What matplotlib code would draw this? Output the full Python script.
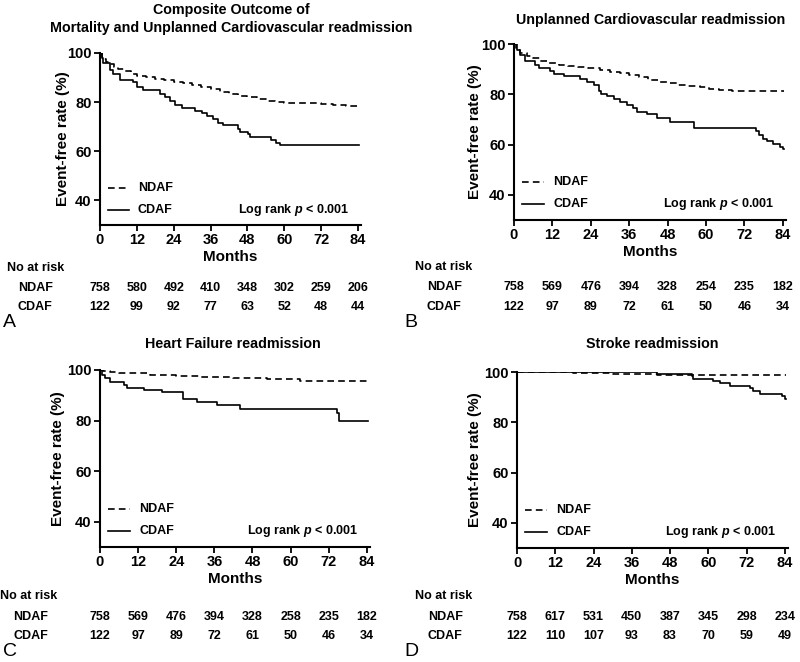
import matplotlib.pyplot as plt
from matplotlib.lines import Line2D
from matplotlib.transforms import blended_transform_factory

plt.rcParams['font.family'] = 'Liberation Sans'
plt.rcParams['font.weight'] = 'bold'
plt.rcParams['axes.labelweight'] = 'bold'
plt.rcParams['mathtext.fontset'] = 'custom'
plt.rcParams['mathtext.rm'] = 'Liberation Sans:bold'
plt.rcParams['mathtext.it'] = 'Liberation Sans:italic:bold'

months = [0, 12, 24, 36, 48, 60, 72, 84]

# A: composite outcome
a_ndaf_t = [0, 0.5, 1, 2, 3, 4.5, 6, 8, 10, 12, 15, 18, 21, 24, 27, 30, 33, 36, 39, 42, 45, 48,
            51, 54, 57, 60, 66, 72, 76, 80, 84.5]
a_ndaf_s = [100, 98.5, 97.5, 96.5, 95.5, 94.5, 93.5, 92.5, 91.5, 90.8, 90.2, 89.6, 89, 88.3, 87.6,
            86.8, 86, 85.2, 84.3, 83.4, 82.6, 82, 81.2, 80.6, 80, 79.7, 79.5, 79.3, 78.8, 78.5, 78.5]
a_cdaf_t = [0, 0.5, 1.1, 3.3, 4.3, 6.5, 10.8, 11.9, 14.1, 19.5, 21.1, 22.8, 24.4, 26.6, 30.9, 33.1,
            34.7, 36.9, 38.5, 40.1, 45.0, 45.5, 48.2, 48.8, 55.8, 57.4, 58.5, 84.5]
a_cdaf_s = [100, 98, 96, 93, 91.5, 89, 88, 86, 85, 83.5, 82, 80.5, 79, 77.5, 76.5, 75.5, 74.5, 73,
            71.5, 70.5, 69, 68, 67, 66, 64.5, 63.5, 62.6, 62.6]
a_risk_ndaf = [758, 580, 492, 410, 348, 302, 259, 206]
a_risk_cdaf = [122, 99, 92, 77, 63, 52, 48, 44]

# B: unplanned cardiovascular readmission
b_ndaf_t = [0, 0.5, 1, 2, 4, 6, 8, 11, 14, 17, 20, 23, 27, 30, 33, 36, 39, 42, 45, 48, 51, 54, 58,
            61, 64, 68, 84.5]
b_ndaf_s = [100, 98.5, 97.5, 96.4, 95.3, 94.4, 93.4, 92.4, 91.7, 91.1, 90.7, 90.3, 89.7, 89, 88.4,
            87.6, 86.8, 85.8, 85, 84.4, 83.8, 83.3, 82.8, 82.3, 81.7, 81.5, 81.5]
b_cdaf_t = [0, 0.8, 1.8, 3.5, 6.5, 7.8, 11.4, 12.4, 15.6, 20.7, 22.8, 24.9, 26.5, 27.2, 29, 31.1,
            33.2, 35.3, 37.3, 38.4, 41.5, 44.6, 48.7, 56.2, 75.7, 76.7, 77.8, 79, 80.9, 83, 84, 84.5]
b_cdaf_s = [100, 97.5, 95.7, 93.2, 91.5, 90.4, 89.3, 88.2, 87.3, 86.2, 84.7, 83.7, 81.5, 80.2, 79.2,
            78.2, 77.1, 75.8, 74.4, 73.1, 72.3, 70.4, 69.1, 66.7, 65.2, 63.8, 62.2, 61.5, 60.2, 59.2,
            58.4, 58.4]
b_risk_ndaf = [758, 569, 476, 394, 328, 254, 235, 182]
b_risk_cdaf = [122, 97, 89, 72, 61, 50, 46, 34]

# C: heart failure readmission
c_ndaf_t = [0, 1, 3, 6, 10.5, 15.8, 24, 31.5, 42, 52.5, 63, 84.5]
c_ndaf_s = [100, 99.6, 99.3, 99, 98.7, 98.1, 97.8, 97.4, 96.8, 96.3, 95.8, 95.6]
c_cdaf_t = [0, 0.5, 1.6, 3.2, 7.4, 8.4, 13.7, 19.5, 26, 30.5, 36.8, 44.1, 74.6, 75.3, 84.5]
c_cdaf_s = [100, 98, 96.7, 95.4, 94, 92.9, 92.2, 91.3, 88.5, 87.3, 86.1, 84.5, 82.8, 80, 80]
c_risk_ndaf = [758, 569, 476, 394, 328, 258, 235, 182]
c_risk_cdaf = [122, 97, 89, 72, 61, 50, 46, 34]

# D: stroke readmission
d_ndaf_t = [0, 17.7, 22, 30, 36.5, 43.8, 55, 84.5]
d_ndaf_s = [100, 99.8, 99.6, 99.4, 99.2, 98.9, 98.8, 98.7]
d_cdaf_t = [0, 43.8, 54.8, 55.3, 61.5, 63.6, 66.8, 73, 74, 76.1, 83, 84, 84.5]
d_cdaf_s = [100, 99.2, 98.3, 97.4, 96.6, 95.6, 94.6, 93.5, 92.6, 91.2, 90.6, 89.2, 89.2]
d_risk_ndaf = [758, 617, 531, 450, 387, 345, 298, 234]
d_risk_cdaf = [122, 110, 107, 93, 83, 70, 59, 49]

W, H = 800, 662
fig = plt.figure(figsize=(W / 100, H / 100), dpi=100)


def px_box(l, t, r, b):
    return [l / W, 1 - b / H, (r - l) / W, (b - t) / H]


def fy(y):
    return 1 - y / H


panels = [
    dict(box=(100, 53, 361, 225), title='Composite Outcome of\nMortality and Unplanned Cardiovascular readmission',
         title_xy=(231, 19), nd=(a_ndaf_t, a_ndaf_s), cd=(a_cdaf_t, a_cdaf_s),
         risk=(a_risk_ndaf, a_risk_cdaf), rows=(268, 288, 307), lx=(7, 18), letter='A', letter_xy=(3, 322),
         ylx=-0.115),
    dict(box=(514, 44, 786, 220), title='Unplanned Cardiovascular readmission',
         title_xy=(651, 20), nd=(b_ndaf_t, b_ndaf_s), cd=(b_cdaf_t, b_cdaf_s),
         risk=(b_risk_ndaf, b_risk_cdaf), rows=(267, 287, 307), lx=(415, 427), letter='B', letter_xy=(404, 322),
         ylx=-0.118),
    dict(box=(100, 370, 370, 547), title='Heart Failure readmission',
         title_xy=(233, 344), nd=(c_ndaf_t, c_ndaf_s), cd=(c_cdaf_t, c_cdaf_s),
         risk=(c_risk_ndaf, c_risk_cdaf), rows=(596, 617, 636), lx=(0, 13), letter='C', letter_xy=(3, 652),
         ylx=-0.13),
    dict(box=(517, 372, 788, 548), title='Stroke readmission',
         title_xy=(652, 344), nd=(d_ndaf_t, d_ndaf_s), cd=(d_cdaf_t, d_cdaf_s),
         risk=(d_risk_ndaf, d_risk_cdaf), rows=(596, 617, 636), lx=(415, 428), letter='D', letter_xy=(404, 652),
         ylx=-0.129),
]

for p in panels:
    ax = fig.add_axes(px_box(*p['box']))
    ax.step(*p['nd'], where='post', color='black', lw=1.2, ls=(0, (4, 2.5)))
    ax.step(*p['cd'], where='post', color='black', lw=1.2)
    ax.set_xlim(0, 85)
    ax.set_ylim(30, 100)
    ax.set_xticks(months)
    ax.set_yticks([40, 60, 80, 100])
    for s in ['top', 'right']:
        ax.spines[s].set_visible(False)
    for s in ['left', 'bottom']:
        ax.spines[s].set_linewidth(1.5)
    ax.tick_params(direction='out', length=4, width=1.3, labelsize=10.5, pad=2)
    ax.set_xlabel('Months', fontsize=11, labelpad=2)
    ax.set_ylabel('Event-free rate (%)', fontsize=11)
    ax.yaxis.set_label_coords(p['ylx'], 0.5)

    # legend drawn by hand
    ax.add_line(Line2D([0.03, 0.11], [0.215, 0.215], transform=ax.transAxes, color='black',
                       lw=1.2, ls=(0, (4, 2.5))))
    ax.add_line(Line2D([0.03, 0.11], [0.09, 0.09], transform=ax.transAxes, color='black', lw=1.2))
    ax.text(0.145, 0.215, 'NDAF', transform=ax.transAxes, fontsize=9, va='center')
    ax.text(0.145, 0.09, 'CDAF', transform=ax.transAxes, fontsize=9, va='center')
    ax.text(0.955, 0.09, 'Log rank $p$ < 0.001', transform=ax.transAxes, fontsize=9,
            va='center', ha='right')

    fig.text(p['title_xy'][0] / W, fy(p['title_xy'][1]), p['title'], fontsize=10.3,
             ha='center', va='center', linespacing=1.3)

    # number at risk table
    tr = blended_transform_factory(ax.transData, fig.transFigure)
    y0, y1, y2 = p['rows']
    fig.text(p['lx'][0] / W, fy(y0), 'No at risk', fontsize=9, va='center')
    fig.text(p['lx'][1] / W, fy(y1), 'NDAF', fontsize=9, va='center')
    fig.text(p['lx'][1] / W, fy(y2), 'CDAF', fontsize=9, va='center')
    for m, n1, n2 in zip(months, p['risk'][0], p['risk'][1]):
        ax.text(m, fy(y1), str(n1), transform=tr, fontsize=9, ha='center', va='center', clip_on=False)
        ax.text(m, fy(y2), str(n2), transform=tr, fontsize=9, ha='center', va='center', clip_on=False)

    fig.text(p['letter_xy'][0] / W, fy(p['letter_xy'][1]), p['letter'], fontsize=14,
             fontweight='normal', va='center')

fig.savefig('out.png', dpi=100)
